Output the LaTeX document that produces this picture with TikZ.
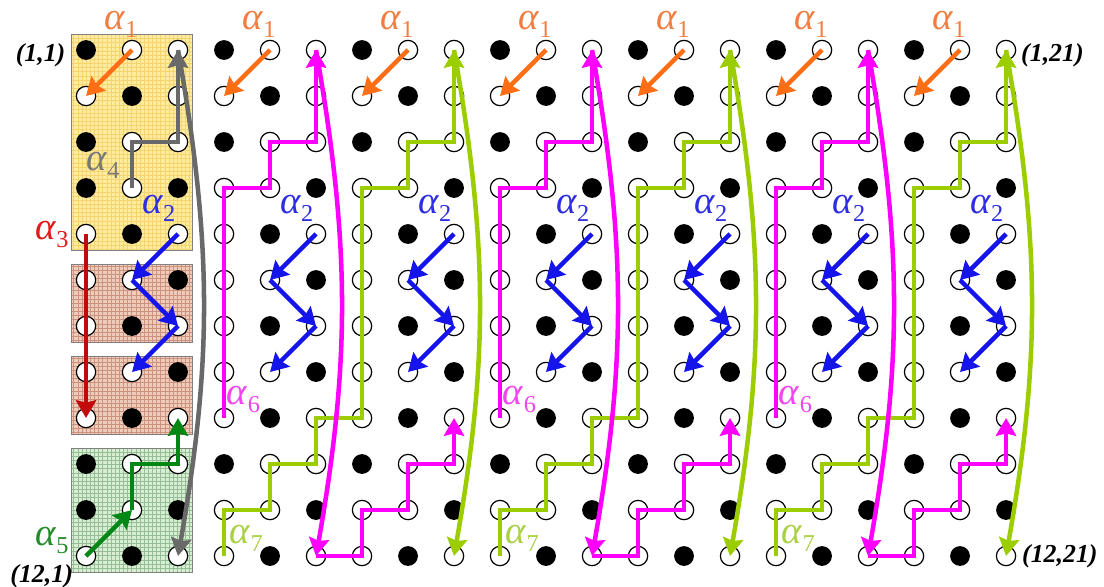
\documentclass[tikz,border=0pt]{standalone}
\usepackage{fontspec}
\setmainfont{Liberation Serif}
\usepackage{tikz}
\usetikzlibrary{arrows.meta,positioning,calc,fit,backgrounds}

\definecolor{orangeA}{RGB}{255,110,20}
\definecolor{orangeL}{RGB}{240,125,65}
\definecolor{blueA}{RGB}{20,20,235}
\definecolor{blueL}{RGB}{45,45,225}
\definecolor{redA}{RGB}{195,10,10}
\definecolor{redL}{RGB}{225,25,25}
\definecolor{grayA}{RGB}{105,105,105}
\definecolor{grayL}{RGB}{120,120,120}
\definecolor{greenA}{RGB}{0,135,20}
\definecolor{greenL}{RGB}{35,140,40}
\definecolor{magentaA}{RGB}{255,0,255}
\definecolor{magentaL}{RGB}{240,70,240}
\definecolor{limeA}{RGB}{155,205,0}
\definecolor{limeL}{RGB}{170,208,70}
\definecolor{boxY}{RGB}{255,236,160}
\definecolor{gridY}{RGB}{245,212,110}
\definecolor{boxP}{RGB}{238,204,188}
\definecolor{gridP}{RGB}{205,145,125}
\definecolor{boxG}{RGB}{216,238,210}
\definecolor{gridG}{RGB}{150,190,150}

\newcommand{\alphalab}[1]{\textit{α}\raisebox{-5pt}{\fontsize{15}{15}\selectfont #1}}

\begin{document}
\begin{tikzpicture}[
        whitedot/.style={circle, draw, fill=white, line width=0.75pt, minimum size=0.42cm, inner sep=0pt},
        blackdot/.style={circle, fill=black, minimum size=0.43cm, inner sep=0pt},
        walk/.style={line width=2.8pt, -{Stealth[length=11pt, width=12.5pt, inset=1.5pt]}},
        lab/.style={inner sep=0pt, font=\fontsize{24}{24}\selectfont},
        coordlab/.style={inner sep=0pt, font=\fontsize{16}{16}\selectfont\bfseries\itshape},
        panel/.style 2 args={draw=gray, line width=0.5pt, fill=#1, inner xsep=0.31cm, inner ysep=0.35cm,
            path picture={\draw[#2, line width=0.2pt, step=0.09cm] (path picture bounding box.south west) grid (path picture bounding box.north east);}}
    ]
    \useasboundingbox (-0.870,0.087) rectangle (23.130,-12.652);

    % lattice of sites
    \foreach \row/\off in {1/1,2/2,3/1,4/0,5/2,6/0,7/2,8/0,9/2,10/1,11/0,12/2}
      \foreach \col in {1,...,21} {
        \pgfmathtruncatemacro{\isfull}{or(mod(\col,3)==\off, and(\col==1, or(\row==4,\row==11)))}
        \ifnum\isfull=1
          \node[blackdot] (p\row-\col) at (\col,-\row) {};
        \else
          \node[whitedot] (p\row-\col) at (\col,-\row) {};
        \fi
      }

    \begin{scope}[on background layer]
        \node[panel={boxY}{gridY}, fit=(p1-1.center)(p5-3.center)] (panel1) {};
        \node[panel={boxP}{gridP}, fit=(p6-1.center)(p7-3.center)] (panel2) {};
        \node[panel={boxP}{gridP}, fit=(p8-1.center)(p9-3.center)] (panel3) {};
        \node[panel={boxG}{gridG}, fit=(p10-1.center)(p12-3.center)] (panel4) {};
    \end{scope}

    \node[coordlab, left=0.22cm of p1-1, yshift=-3pt] (c-1-1) {(1,1)};
    \node[coordlab, right=0.1cm of p1-21, yshift=-3pt] (c-1-21) {(1,21)};
    \node[coordlab, below left=0.01cm and 0.12cm of p12-1] (c-12-1) {(12,1)};
    \node[coordlab, right=0.12cm of p12-21] (c-12-21) {(12,21)};

    % alpha_1 and alpha_2
    \foreach \ca/\cb in {2/1,5/4,8/7,11/10,14/13,17/16,20/19} {
        \draw[walk, orangeA] (p1-\ca.center) -- (p2-\cb.center);
        \node[lab, text=orangeL, xshift=-0.24cm, yshift=0.55cm] at (p1-\ca) {\alphalab{1}};
    }
    \foreach \ca/\cb in {3/2,6/5,9/8,12/11,15/14,18/17,21/20} {
        \draw[walk, blueA] (p5-\ca.center) -- (p6-\cb.center);
        \draw[walk, blueA] (p6-\cb.center) -- (p7-\ca.center);
        \draw[walk, blueA] (p7-\ca.center) -- (p8-\cb.center);
        \node[lab, text=blueL, xshift=-0.42cm, yshift=0.55cm] at (p5-\ca) {\alphalab{2}};
    }

    % alpha_3, alpha_4, alpha_5
    \draw[walk, redA] (p5-1.center) -- (p9-1.center);
    \node[lab, text=redL, xshift=-0.74cm] at (p5-1) {\alphalab{3}};
    \draw[walk, grayA] (p4-2.center) |- (p3-3.center) -- (p1-3.center);
    \draw[walk, grayA] (p1-3.center) to[bend left=10] (p12-3.center);
    \node[lab, text=grayL, xshift=-0.63cm, yshift=0.5cm] at (p4-2) {\alphalab{4}};
    \draw[walk, greenA] (p12-1.center) -- (p11-2.center);
    \draw[walk, greenA] (p11-2.center) |- (p10-3.center) -- (p9-3.center);
    \node[lab, text=greenL, xshift=-0.74cm, yshift=0.34cm] at (p12-1) {\alphalab{5}};

    % alpha_6 and alpha_7
    \foreach \ka/\kb/\kc/\kd/\ke/\kf in {4/5/6/7/8/9,10/11/12/13/14/15,16/17/18/19/20/21} {
        \draw[walk, limeA] (p12-\ka.center) |- (p11-\kb.center) |- (p10-\kc.center) |- (p9-\kd.center) |- (p4-\ke.center) |- (p3-\kf.center) -- (p1-\kf.center);
        \draw[walk, limeA] (p1-\kf.center) to[bend left=10] (p12-\kf.center);
        \draw[walk, magentaA] (p9-\ka.center) |- (p4-\kb.center) |- (p3-\kc.center) -- (p1-\kc.center);
        \draw[walk, magentaA] (p1-\kc.center) to[bend left=10] (p12-\kc.center);
        \draw[walk, magentaA] (p12-\kc.center) -| (p11-\kd.center) -| (p10-\ke.center) -| (p9-\kf.center);
        \node[lab, text=magentaL, xshift=0.42cm, yshift=0.41cm] at (p9-\ka) {\alphalab{6}};
        \node[lab, text=limeL, xshift=0.48cm, yshift=0.39cm] at (p12-\ka) {\alphalab{7}};
    }
\end{tikzpicture}
\end{document}
